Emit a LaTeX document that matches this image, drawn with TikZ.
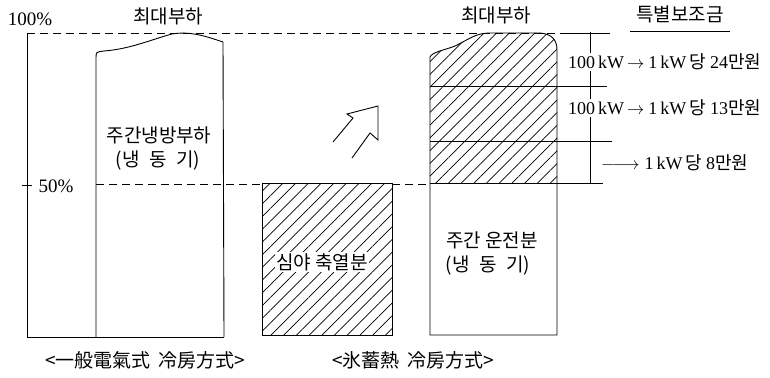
\documentclass[tikz,border=0pt]{standalone}
\usepackage{fontspec}
\setmainfont{Liberation Serif}
\newfontfamily\kr{Noto Sans CJK KR}
\usetikzlibrary{patterns.meta}
\newcommand{\krs}[1]{{\kr\fontsize{18}{19}\selectfont #1}}
\begin{document}
\begin{tikzpicture}[x=1pt,y=-1pt,
  ln/.style={line width=0.9pt},
  dsh/.style={line width=0.9pt, dash pattern=on 8pt off 5pt},
  hatch/.style={pattern={Lines[angle=45,distance=9pt,line width=0.7pt]}},
  kt/.style={font=\kr\fontsize{19}{21}\selectfont, inner sep=1pt},
  lt/.style={font=\fontsize{19}{21}\selectfont, inner sep=1pt},
  rt/.style={font=\fontsize{18}{20}\selectfont, inner sep=1pt, fill=white, anchor=west},
]
\useasboundingbox (0,0) rectangle (770,377);

% axis
\coordinate (axT) at (27,33);
\coordinate (axB) at (27,337);
\coordinate (axR) at (224,337);
\draw[ln] (axT) -- (axB) -- (axR);
\draw[ln] (22,185) -- (32,185);

% top dashed reference line
\draw[dsh] (27,33) -- (565,33);
\draw[ln] (565,33) -- (610,33);

% left load profile
\draw[ln] (96,337) -- (96,58) .. controls (96,52) .. (104,51)
  .. controls (130,49) and (150,40) .. (172,34)
  .. controls (190,31) and (205,36) .. (223,42) -- (224,337);

% 50% dashed line
\draw[dsh] (96,184) -- (262,184);
\draw[dsh] (392,184) -- (430,184);

% night storage box
\draw[ln,hatch] (262,183) rectangle (392,335);

% right profile, hatched upper part
\path[hatch] (430,183) -- (430,57) .. controls (432,52) and (445,50) .. (455,46)
  .. controls (468,40) and (475,33) .. (490,33) -- (540,33)
  .. controls (552,34) and (557,40) .. (557,50) -- (557,183) -- cycle;
\draw[ln] (430,335) -- (430,57) .. controls (432,52) and (445,50) .. (455,46)
  .. controls (468,40) and (475,33) .. (490,33) -- (540,33)
  .. controls (552,34) and (557,40) .. (557,50) -- (557,335) -- cycle;
\draw[ln] (430,86) -- (607,86);
\draw[ln] (430,141) -- (612,141);
\draw[ln] (430,183) -- (603,183);
\draw[ln] (590,32) -- (590,183);

% arrow
\draw[ln, line join=miter] (352,158) -- (370,133) -- (378,140) -- (378,106)
  -- (347,114) -- (353,118) -- (333,142);

% texts
\node[lt] (p100) at (30,19) {100\%};
\node[lt] (p50) at (56,186) {50\%};
\node[kt] (max1) at (168,16) {최대부하};
\node[kt] (max2) at (496,15) {최대부하};
\node[kt] (sub) at (680,14) {특별보조금};
\draw[ln] (630,31) -- (730,31);

\node[kt] (day1) at (159,135) {주간냉방부하};
\node[kt] (day2) at (158,161) {(냉\enspace 동\enspace 기)};
\node[kt,fill=white] (night) at (322,262) {심야 축열분};
\node[kt] (run1) at (492,240) {주간 운전분};
\node[kt] (run2) at (488,266) {(냉\enspace 동\enspace 기)};

\node[rt] (r1) at (567,62) {100\,kW\hspace{3pt}$\rightarrow$\hspace{4pt}1\,kW\,\krs{당}\hspace{4pt}24\krs{만원}};
\node[rt] (r2) at (567,108) {100\,kW\hspace{3pt}$\rightarrow$\hspace{4pt}1\,kW\,\krs{당}\hspace{4pt}13\krs{만원}};
\node[rt,fill=none] (r3) at (600,163) {$\relbar\joinrel\relbar\joinrel\rightarrow$\hspace{5pt}1\,kW\,\krs{당}\hspace{4pt}8\krs{만원}};

\node[kt] (cap1) at (145,360) {<一般電氣式\, 冷房方式>};
\node[kt] (cap2) at (413,360) {<氷蓄熱\, 冷房方式>};
\end{tikzpicture}
\end{document}
